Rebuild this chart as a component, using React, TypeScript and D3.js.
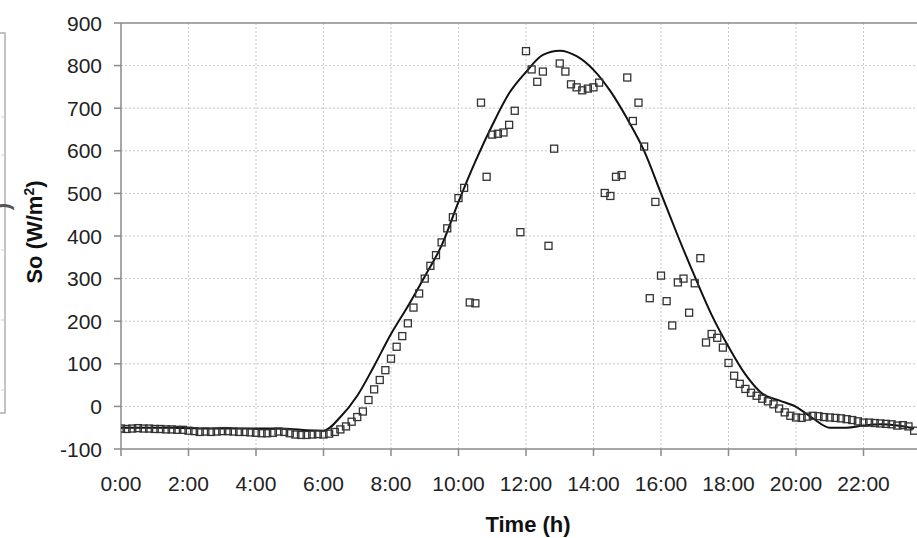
import React, { useRef, useEffect } from 'react';
import * as d3 from 'd3';

// measured irradiance, one reading every 10 min from 0:00
const measured = [
  -52, -53, -52, -51, -52, -52,
  -53, -53, -54, -54, -55, -55,
  -57, -58, -60, -59, -60, -59,
  -58, -58, -59, -60, -60, -61,
  -62, -63, -63, -62, -59, -60,
  -63, -66, -67, -67, -66, -65,
  -66, -64, -60, -54, -47, -36,
  -25, -12, 15, 40, 62, 85,
  112, 140, 165, 195, 232, 265,
  300, 330, 355, 385, 418, 444,
  489, 513, 244, 242, 713, 539,
  638, 640, 643, 661, 694, 409,
  834, 791, 762, 786, 377, 605,
  805, 786, 756, 749, 742, 746,
  749, 760, 501, 494, 539, 543,
  772, 670, 713, 610, 254, 480,
  307, 247, 190, 291, 300, 220,
  289, 348, 150, 170, 161, 138,
  102, 72, 53, 41, 32, 25,
  18, 12, 5, -5, -14, -22,
  -26, -27, -24, -22, -23, -25,
  -26, -27, -28, -30, -32, -35,
  -38, -38, -39, -40, -41, -42,
  -45, -44, -47, -57,
];

// modelled irradiance, every 30 min from 0:00
const modelled = [
  -50, -50, -50, -50, -51, -52, -52, -52, -52, -52, -53, -56,
  -57, -25, 25, 95, 170, 235, 305, 378, 480, 575, 660, 735,
  785, 825, 835, 822, 790, 740, 675, 600, 500, 400, 305, 215,
  140, 75, 30, 14, -1, -28, -50, -50, -45, -42, -45, -52,
];

const yTicks = [-100, 0, 100, 200, 300, 400, 500, 600, 700, 800, 900];
const xTicks = [0, 2, 4, 6, 8, 10, 12, 14, 16, 18, 20, 22];
const xTickLabels = ['0:00', '2:00', '4:00', '6:00', '8:00', '10:00', '12:00', '14:00', '16:00', '18:00', '20:00', '22:00'];

const App: React.FC = () => {
  const ref = useRef<SVGSVGElement>(null);

  useEffect(() => {
    document.body.style.margin = '0';
    const svg = d3.select(ref.current);
    svg.selectAll('*').remove();

    const font = 'Liberation Sans, Arial, sans-serif';
    const x = d3.scaleLinear().domain([0, 24]).range([121, 931]);
    const y = d3.scaleLinear().domain([-100, 900]).range([449, 23]);

    // remains of the neighbouring chart on the left
    const left = svg.append('g');
    left.append('path').attr('d', 'M0,33H5V413H0').attr('fill', 'none').attr('stroke', '#b0b0b0').attr('stroke-width', 1.5);
    [117, 155, 250, 320, 390].forEach(v => {
      left.append('line').attr('x1', 1).attr('x2', 5).attr('y1', v).attr('y2', v).attr('stroke', '#d0d0d0');
    });
    left.append('text')
      .attr('transform', 'translate(9,203) rotate(-90)')
      .attr('text-anchor', 'end')
      .attr('font-family', font).attr('font-weight', 'bold').attr('font-size', 22)
      .attr('fill', '#555')
      .text(')');

    // grid
    const grid = svg.append('g').attr('stroke', '#c8c8c8').attr('stroke-width', 1).attr('stroke-dasharray', '2,2');
    yTicks.filter(v => v > -100 && v < 900).forEach(v => {
      grid.append('line').attr('x1', x(0)).attr('x2', 917).attr('y1', y(v)).attr('y2', y(v));
    });
    xTicks.filter(v => v > 0).forEach(v => {
      grid.append('line').attr('x1', x(v)).attr('x2', x(v)).attr('y1', y(900)).attr('y2', y(-100));
    });

    // frame
    const axisColor = '#8a8a8a';
    svg.append('line').attr('x1', x(0)).attr('x2', 917).attr('y1', y(900)).attr('y2', y(900)).attr('stroke', axisColor).attr('stroke-width', 1.5);
    svg.append('line').attr('x1', x(0)).attr('x2', 917).attr('y1', y(-100)).attr('y2', y(-100)).attr('stroke', axisColor).attr('stroke-width', 1.5);
    svg.append('line').attr('x1', x(0)).attr('x2', x(0)).attr('y1', y(900)).attr('y2', y(-100)).attr('stroke', axisColor).attr('stroke-width', 1.5);

    // y ticks
    const yAxis = svg.append('g');
    yTicks.forEach(v => {
      yAxis.append('line').attr('x1', x(0) - 7).attr('x2', x(0)).attr('y1', y(v)).attr('y2', y(v)).attr('stroke', axisColor).attr('stroke-width', 1.5);
      yAxis.append('text')
        .attr('x', 102).attr('y', y(v)).attr('dy', '0.36em')
        .attr('text-anchor', 'end')
        .attr('font-family', font).attr('font-size', 21).attr('fill', '#222')
        .text(v);
    });

    // x ticks
    const xAxis = svg.append('g');
    xTicks.forEach((v, i) => {
      xAxis.append('line').attr('x1', x(v)).attr('x2', x(v)).attr('y1', y(-100)).attr('y2', y(-100) + 7).attr('stroke', axisColor).attr('stroke-width', 1.5);
      xAxis.append('text')
        .attr('x', x(v)).attr('y', 491)
        .attr('text-anchor', 'middle')
        .attr('font-family', font).attr('font-size', 21).attr('fill', '#222')
        .text(xTickLabels[i]);
    });

    // axis titles
    svg.append('text')
      .attr('x', 528).attr('y', 532)
      .attr('text-anchor', 'middle')
      .attr('font-family', font).attr('font-weight', 'bold').attr('font-size', 22).attr('fill', '#111')
      .text('Time (h)');
    const yt = svg.append('text')
      .attr('transform', 'translate(42,232) rotate(-90)')
      .attr('text-anchor', 'middle')
      .attr('font-family', font).attr('font-weight', 'bold').attr('font-size', 22).attr('fill', '#111');
    yt.append('tspan').text('So (W/m');
    yt.append('tspan').attr('font-size', 14).attr('dy', -8).text('2');
    yt.append('tspan').attr('dy', 8).text(')');

    // clip data to visible plot
    svg.append('clipPath').attr('id', 'plotclip')
      .append('rect').attr('x', x(0)).attr('y', y(900)).attr('width', 917 - x(0)).attr('height', y(-100) - y(900));

    const plot = svg.append('g').attr('clip-path', 'url(#plotclip)');

    const line = d3.line<number>()
      .x((_, i) => x(i * 0.5))
      .y(d => y(d))
      .curve(d3.curveMonotoneX);

    plot.append('path')
      .datum(modelled)
      .attr('fill', 'none')
      .attr('stroke', '#111')
      .attr('stroke-width', 2)
      .attr('d', line);

    const s = 7;
    plot.selectAll('rect.pt')
      .data(measured)
      .enter()
      .append('rect')
      .attr('class', 'pt')
      .attr('x', (_, i) => x(i / 6) - s / 2)
      .attr('y', d => y(d) - s / 2)
      .attr('width', s)
      .attr('height', s)
      .attr('fill', 'none')
      .attr('stroke', '#333')
      .attr('stroke-width', 1.3);
  }, []);

  return (
    <svg ref={ref} width="917" height="538" style={{ display: 'block', background: '#fff' }}></svg>
  );
};

export default App;
